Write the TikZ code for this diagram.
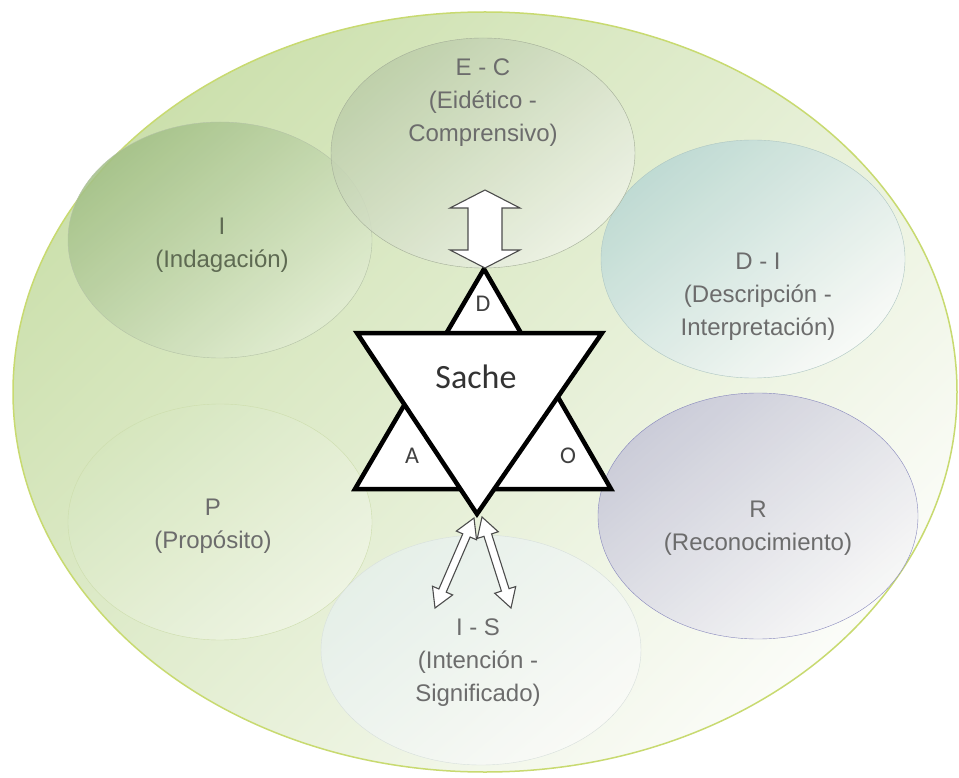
\documentclass[tikz,border=0pt]{standalone}
\usepackage{fontspec}
\setmainfont{Liberation Sans}
\newfontfamily\calibfont{Carlito}
\usetikzlibrary{shapes.geometric,calc}
\definecolor{txtgray}{HTML}{6C6C6C}
\definecolor{indtext}{HTML}{5E6A52}
\definecolor{rimgreen}{HTML}{C8DA70}
\definecolor{outerA}{HTML}{CCE0AD}
\definecolor{outerM}{HTML}{ECF2E1}
\definecolor{outerB}{HTML}{FBFCF8}
\definecolor{indA}{HTML}{A2BF86}
\definecolor{indB}{HTML}{E2EDD3}
\definecolor{eidA}{HTML}{BCCDA9}
\definecolor{eidB}{HTML}{EFF3E8}
\definecolor{desA}{HTML}{BAD8D4}
\definecolor{desB}{HTML}{FAFBFA}
\definecolor{proA}{HTML}{D6E7BF}
\definecolor{proB}{HTML}{F0F5E6}
\definecolor{recA}{HTML}{C6C6D8}
\definecolor{recB}{HTML}{F7F7F7}
\definecolor{intA}{HTML}{E6F0EC}
\definecolor{intB}{HTML}{FAFBF8}
\tikzset{bubble/.style={ellipse, draw, thin, inner sep=0pt, fill opacity=.85},
         tint/.style 2 args={top color=#1, bottom color=#2, shading angle=40},
         lbl/.style={align=center, text=txtgray, font=\fontsize{24}{33}\selectfont},
         starline/.style={draw=black, fill=white, line width=4.5pt, line join=miter},
         letter/.style={text=black!75, font=\calibfont\fontsize{24}{24}\selectfont},
         blockarr/.style={draw=black!70, fill=white, line width=1.1pt, line join=miter}}
% #1,#2 tips, #3 head length, #4 half shaft, #5 half head
\newcommand{\blockarrow}[5]{%
  \draw[blockarr] (#1) -- ($(#1)!#3!(#2)!#5!90:(#2)$) -- ($(#1)!#3!(#2)!#4!90:(#2)$)
     -- ($(#2)!#3!(#1)!#4!-90:(#1)$) -- ($(#2)!#3!(#1)!#5!-90:(#1)$) -- (#2)
     -- ($(#2)!#3!(#1)!#5!90:(#1)$) -- ($(#2)!#3!(#1)!#4!90:(#1)$)
     -- ($(#1)!#3!(#2)!#4!-90:(#2)$) -- ($(#1)!#3!(#2)!#5!-90:(#2)$) -- cycle;}

\begin{document}
\begin{tikzpicture}[x=1pt,y=-1pt]
  \useasboundingbox[fill=white] (0,0) rectangle (959,778);

  \node[ellipse, draw=rimgreen, line width=1.5pt, minimum width=944pt, minimum height=760pt,
        top color=outerA, middle color=outerM, bottom color=outerB, shading angle=45] (frame) at (485,392) {};

  \node[bubble, draw=indA!80!black!60, minimum width=304pt, minimum height=236pt,
        tint={indA}{indB}] (ind) at (220,240) {};
  \node[bubble, draw=proA!90!olive, minimum width=304pt, minimum height=236pt,
        tint={proA}{proB}] (pro) at (220,522) {};
  \node[bubble, draw=recA!70!blue!60!gray, minimum width=320pt, minimum height=246pt,
        tint={recA}{recB}] (rec) at (758,516) {};
  \node[bubble, draw=desA!80!gray, minimum width=304pt, minimum height=238pt,
        tint={desA}{desB}] (des) at (753,259) {};
  \node[bubble, draw=eidA!60!gray, minimum width=304pt, minimum height=230pt,
        tint={eidA}{eidB}] (eid) at (483,153) {};
  \node[bubble, draw=intA!85!gray, minimum width=320pt, minimum height=230pt,
        tint={intA}{intB}] (int) at (481,650) {};

  \node[lbl] (eidtxt) at (483,103) {E - C\\(Eidético -\\Comprensivo)};
  \node[lbl, text=indtext] (indtxt) at (222,245) {I\\(Indagación)};
  \node[lbl] (destxt) at (758,297) {D - I\\(Descripción -\\Interpretación)};
  \node[lbl] (protxt) at (213,526) {P\\(Propósito)};
  \node[lbl] (rectxt) at (758,528) {R\\(Reconocimiento)};
  \node[lbl] (inttxt) at (478,663) {I - S\\(Intención -\\Significado)};

  % hexagram
  \draw[starline] (484,269) coordinate (apex) -- (611,489) -- (355,489) -- cycle;
  \draw[starline] (357,333) -- (602,333) -- (477,514) coordinate (nadir) -- cycle;
  \node[font=\calibfont\fontsize{34}{34}\selectfont, text=black!80] (sache) at (476,377) {Sache};
  \node[letter] (dl) at (483,304) {D};
  \node[letter] (al) at (412,456) {A};
  \node[letter] (ol) at (568,456) {O};

  \coordinate (up1) at (485,190);
  \coordinate (up2) at (485,268);
  \coordinate (la1) at (474,518);
  \coordinate (la2) at (435,608);
  \coordinate (ra1) at (482,517);
  \coordinate (ra2) at (511,608);
  \blockarrow{up1}{up2}{18pt}{17pt}{35pt}
  \blockarrow{la1}{la2}{19pt}{4pt}{11pt}
  \blockarrow{ra1}{ra2}{19pt}{4pt}{11pt}
\end{tikzpicture}
\end{document}
